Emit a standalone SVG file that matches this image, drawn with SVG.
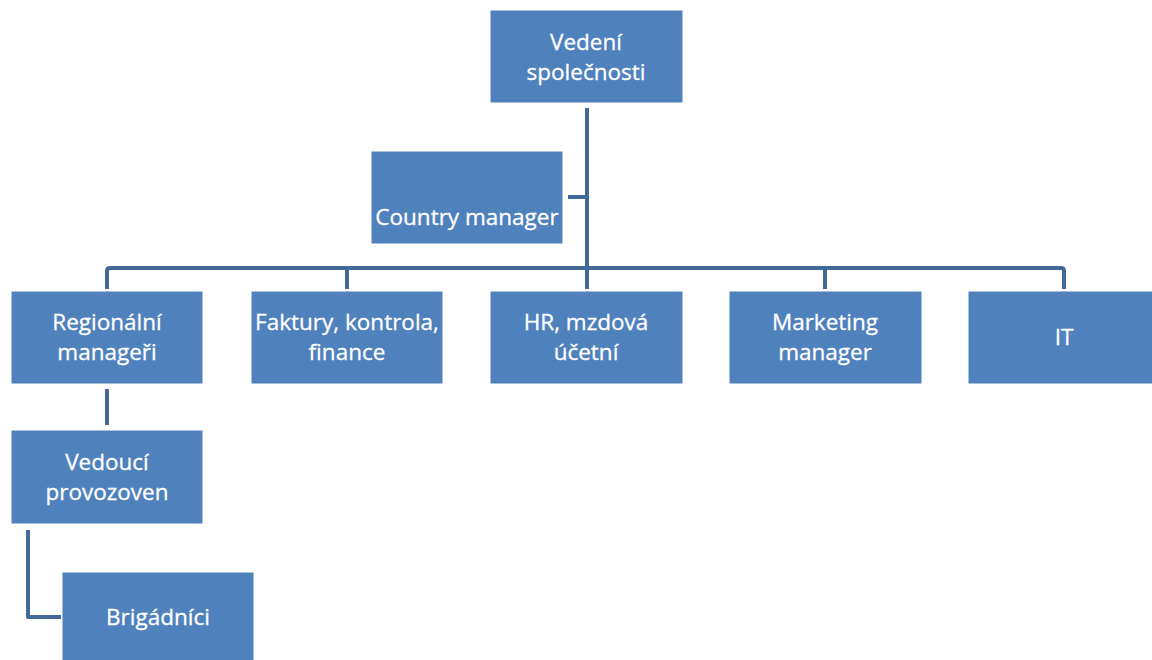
<svg xmlns="http://www.w3.org/2000/svg" width="1152" height="660" viewBox="0 0 1152 660">
<style>
.box{fill:#4F81BD;stroke:#FFFFFF;stroke-width:1}
.t{font-family:"Open Sans","Liberation Sans",sans-serif;font-size:22.5px;fill:#FFFFFF;text-anchor:middle;stroke:#FFFFFF;stroke-width:0.3}
.c{fill:none;stroke:#41699A;stroke-width:4;stroke-linejoin:round}
</style>
<rect width="1152" height="660" fill="#FFFFFF"/>
<g id="connectors">
<path class="c" d="M587 108 V268"/>
<path class="c" d="M568 197 H587"/>
<path class="c" d="M107 289 V271 Q107 268 110 268 H1061 Q1064 268 1064 271 V289"/>
<path class="c" d="M347 268 V289"/>
<path class="c" d="M587 268 V289"/>
<path class="c" d="M825 268 V289"/>
<path class="c" d="M107 389 V425"/>
<path class="c" d="M28 530 V617 H61"/>
</g>
<g id="n-vedeni"><rect class="box" x="490" y="10" width="193" height="93"/><text class="t" x="586" y="50">Vedení</text><text class="t" x="586" y="80">společnosti</text></g>
<g id="n-country"><rect class="box" x="371" y="151" width="192" height="93"/><text class="t" x="467" y="225">Country manager</text></g>
<g id="n-regional"><rect class="box" x="11" y="291" width="192" height="93"/><text class="t" x="107" y="330">Regionální</text><text class="t" x="107" y="360">manageři</text></g>
<g id="n-faktury"><rect class="box" x="251" y="291" width="192" height="93"/><text class="t" x="347" y="330">Faktury, kontrola,</text><text class="t" x="347" y="360">finance</text></g>
<g id="n-hr"><rect class="box" x="490" y="291" width="193" height="93"/><text class="t" x="586" y="330">HR, mzdová</text><text class="t" x="586" y="360">účetní</text></g>
<g id="n-marketing"><rect class="box" x="729" y="291" width="193" height="93"/><text class="t" x="825" y="330">Marketing</text><text class="t" x="825" y="360">manager</text></g>
<g id="n-it"><rect class="box" x="968" y="291" width="185" height="93"/><text class="t" x="1064" y="345">IT</text></g>
<g id="n-vedouci"><rect class="box" x="11" y="430" width="192" height="94"/><text class="t" x="107" y="470">Vedoucí</text><text class="t" x="107" y="500">provozoven</text></g>
<g id="n-brigadnici"><rect class="box" x="62" y="572" width="192" height="90"/><text class="t" x="158" y="625">Brigádníci</text></g>
</svg>
